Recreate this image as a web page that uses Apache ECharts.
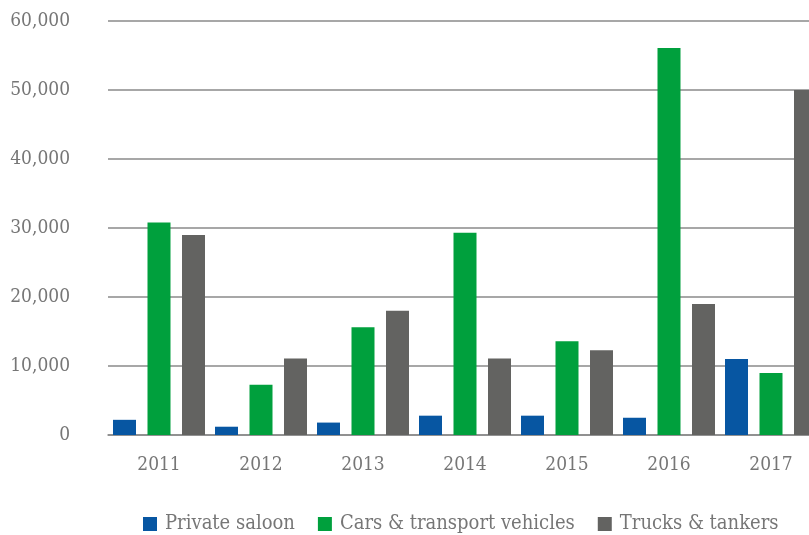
<!DOCTYPE html>
<html>
<head>
<meta charset="utf-8">
<script src="https://cdn.jsdelivr.net/npm/echarts@6/dist/echarts.min.js"></script>
<style>
  html, body { margin: 0; padding: 0; background: #fff; overflow: hidden; }
  #wrap { width: 809px; height: 535px; overflow: hidden; }
  #chart { width: 822px; height: 535px; }
</style>
</head>
<body>
<div id="wrap"><div id="chart"></div></div>
<script>
// Annual figures by vehicle type
const years = ['2011', '2012', '2013', '2014', '2015', '2016', '2017'];
const privateSaloon = [2200, 1200, 1800, 2800, 2800, 2500, 11000];
const carsTransport = [30800, 7300, 15600, 29300, 13600, 56100, 9000];
const trucksTankers = [29000, 11100, 18000, 11100, 12300, 19000, 50000];
const yTicks = [0, 10000, 20000, 30000, 40000, 50000, 60000];

const FONT = '"DejaVu Serif Condensed", "DejaVu Serif", serif';
const TEXT = '#767676';
const GRID = '#8a8a8a';

const chart = echarts.init(document.getElementById('chart'), null, { renderer: 'canvas' });

const bar = (name, data, color) => ({
  name, type: 'bar', data,
  barWidth: 23, barGap: '50%', barCategoryGap: '10%',
  itemStyle: { color },
  emphasis: { disabled: true }
});

chart.setOption({
  animation: false,
  textStyle: { fontFamily: FONT },
  // plot runs past the visible right edge, so the last bar is cut off
  grid: { left: 108, top: 21, right: 0, bottom: 100, containLabel: false },
  legend: {
    left: 143, top: 514, padding: 0,
    itemWidth: 14, itemHeight: 14, itemGap: 23,
    icon: 'rect',
    textStyle: { fontFamily: FONT, fontSize: 20, color: TEXT, padding: [0, 0, 0, 3] },
    data: ['Private saloon', 'Cars & transport vehicles', 'Trucks & tankers']
  },
  xAxis: {
    type: 'category', data: years,
    axisLine: { show: true, lineStyle: { color: GRID, width: 1.5 } },
    axisTick: { show: false },
    axisLabel: { fontFamily: FONT, fontSize: 19, color: TEXT, margin: 21 }
  },
  yAxis: {
    type: 'value', min: yTicks[0], max: yTicks[yTicks.length - 1], interval: 10000,
    axisLine: { show: false }, axisTick: { show: false },
    splitLine: { lineStyle: { color: GRID, width: 1.5 } },
    axisLabel: {
      fontFamily: FONT, fontSize: 19, color: TEXT, margin: 38,
      formatter: v => v.toLocaleString('en-US')
    }
  },
  series: [
    bar('Private saloon', privateSaloon, '#0756a2'),
    bar('Cars & transport vehicles', carsTransport, '#00a03d'),
    bar('Trucks & tankers', trucksTankers, '#636361')
  ]
});
</script>
</body>
</html>
